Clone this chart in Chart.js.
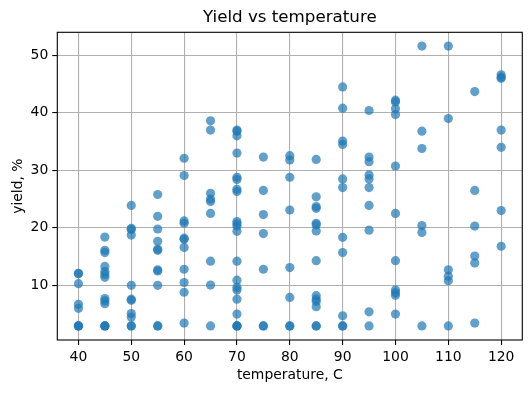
<!DOCTYPE html>
<html>
<head>
<meta charset="utf-8">
<script src="https://cdn.jsdelivr.net/npm/chart.js@4/dist/chart.umd.min.js"></script>
<style>
    body { margin: 0; background: #fff; }
</style>
</head>
<body>
<canvas id="yieldChartElem" width="531" height="393"></canvas>
<script>

// Data: yield (%) at each temperature (C)
const temperatures = [40, 45, 50, 55, 60, 65, 70, 75, 80, 85, 90, 95, 100, 105, 110, 115, 120];

const yieldAt40 = [12.1, 12.0, 10.3, 6.7, 6.0, 2.95, 2.95, 2.95];
const yieldAt45 = [18.4, 16.1, 15.7, 13.3, 12.4, 11.9, 11.4, 7.7, 7.3, 6.8, 2.95, 2.95, 2.95];
const yieldAt50 = [23.9, 19.9, 19.7, 18.75, 10.0, 7.6, 7.4, 5.1, 4.5, 2.95, 2.95];
const yieldAt55 = [25.8, 22.0, 19.8, 17.65, 16.3, 16.1, 12.7, 12.5, 10.0, 2.95, 2.95];
const yieldAt60 = [32.1, 29.1, 21.2, 20.8, 18.2, 18.0, 16.6, 12.8, 10.5, 8.8, 3.45];
const yieldAt65 = [38.6, 37.0, 26.0, 25.0, 24.6, 22.5, 14.2, 10.05, 2.95];
const yieldAt70 = [37.0, 36.8, 36.0, 33.0, 28.8, 28.4, 26.7, 26.3, 21.1, 20.7, 20.3, 19.4, 14.2, 10.9, 9.65, 9.2, 7.6, 5.0, 2.95, 2.95, 2.95];
const yieldAt75 = [32.3, 26.5, 22.3, 19.0, 12.8, 2.95, 2.95];
const yieldAt80 = [32.55, 31.8, 28.8, 23.1, 13.1, 7.9, 2.95, 2.95];
const yieldAt85 = [31.9, 25.4, 23.7, 23.4, 20.8, 20.5, 19.45, 14.3, 8.2, 7.6, 7.2, 6.3, 2.95, 2.95];
const yieldAt90 = [44.5, 40.8, 35.1, 34.5, 28.5, 27.0, 18.35, 15.7, 4.7, 2.95, 2.95];
const yieldAt95 = [40.4, 32.3, 31.5, 29.2, 28.5, 27.0, 23.9, 19.6, 5.4, 2.95];
const yieldAt100 = [42.2, 41.9, 40.7, 39.7, 30.75, 22.5, 14.3, 9.2, 8.7, 8.3, 5.0];
const yieldAt105 = [51.6, 36.8, 33.8, 20.4, 19.2, 2.95];
const yieldAt110 = [51.6, 39.0, 12.7, 11.6, 10.8, 2.95];
const yieldAt115 = [43.7, 26.5, 20.3, 15.1, 13.9, 3.45];
const yieldAt120 = [46.6, 46.2, 46.0, 37.0, 34.0, 23.0, 16.8];

const yieldGroups = [
    yieldAt40, yieldAt45, yieldAt50, yieldAt55, yieldAt60, yieldAt65, yieldAt70, yieldAt75, yieldAt80,
    yieldAt85, yieldAt90, yieldAt95, yieldAt100, yieldAt105, yieldAt110, yieldAt115, yieldAt120
];

const xTicks = [40, 50, 60, 70, 80, 90, 100, 110, 120];
const yTicks = [10, 20, 30, 40, 50];



// Build the scatter points from the arrays above
const points = [];
temperatures.forEach((t, i) => {
    yieldGroups[i].forEach((y) => {
        points.push({ x: t, y: y });
    });
});

const FONT = 'DejaVu Sans';

// matplotlib-like frame around the plot area
const axesFrame = {
    id: 'axesFrame',
    afterDatasetsDraw: (chart) => {
        const { ctx, chartArea } = chart;
        ctx.save();
        ctx.strokeStyle = '#000';
        ctx.lineWidth = 1.1;
        ctx.strokeRect(chartArea.left, chartArea.top, chartArea.right - chartArea.left, chartArea.bottom - chartArea.top);
        ctx.restore();
    }
};

const axisCommon = (tickValues) => {
    return {
        type: 'linear',
        afterBuildTicks: (scale) => {
            scale.ticks = tickValues.map((v) => ({ value: v }));
        },
        grid: {
            color: '#b0b0b0',
            lineWidth: 1.1,
            tickColor: '#000',
            tickWidth: 1.1,
            tickLength: 5
        },
        border: {
            display: false
        },
        ticks: {
            color: '#000',
            padding: 4,
            font: { family: FONT, size: 13.9 }
        }
    }
};

const xScale = axisCommon(xTicks);
xScale.min = 36;
xScale.max = 124;
xScale.afterFit = (scale) => { scale.height = 53; };
xScale.ticks.maxRotation = 0;
xScale.title = {
    display: true,
    text: 'temperature, C',
    color: '#000',
    font: { family: FONT, size: 13.9 },
    padding: { top: 0, bottom: 9 }
};

const yScale = axisCommon(yTicks);
yScale.min = 0.5;
yScale.max = 54.0;
yScale.afterFit = (scale) => { scale.width = 57.3; };
yScale.title = {
    display: true,
    text: 'yield, %',
    color: '#000',
    font: { family: FONT, size: 13.9 },
    padding: { top: 10, bottom: 0 }
};

// Empty top axis, only used to center the chart title over the plot area
const titleScale = {
    type: 'linear',
    position: 'top',
    min: 36,
    max: 124,
    afterFit: (scale) => { scale.height = 32.3; },
    grid: { display: false },
    border: { display: false },
    ticks: { display: false },
    title: {
        display: true,
        text: 'Yield vs temperature',
        color: '#000',
        font: { family: FONT, size: 16.7 },
        padding: { top: 8, bottom: 0 }
    }
};

const yieldChartElem = document.getElementById('yieldChartElem');
const yieldChart = new Chart(yieldChartElem, {
    type: 'scatter',
    data: {
        datasets: [{
            label: 'yield',
            data: points,
            backgroundColor: 'rgba(31, 119, 180, 0.7)',
            borderColor: 'rgba(31, 119, 180, 0)',
            borderWidth: 0,
            pointRadius: 4.6,
            pointHoverRadius: 4.6
        }]
    },
    options: {
        responsive: false,
        animation: false,
        layout: {
            padding: { left: 0, right: 8.7, top: 0, bottom: 0 }
        },
        scales: {
            x: xScale,
            y: yScale,
            xTop: titleScale
        },
        plugins: {
            legend: { display: false },
            tooltip: { enabled: false }
        }
    },
    plugins: [axesFrame]
});
</script>
</body>
</html>
